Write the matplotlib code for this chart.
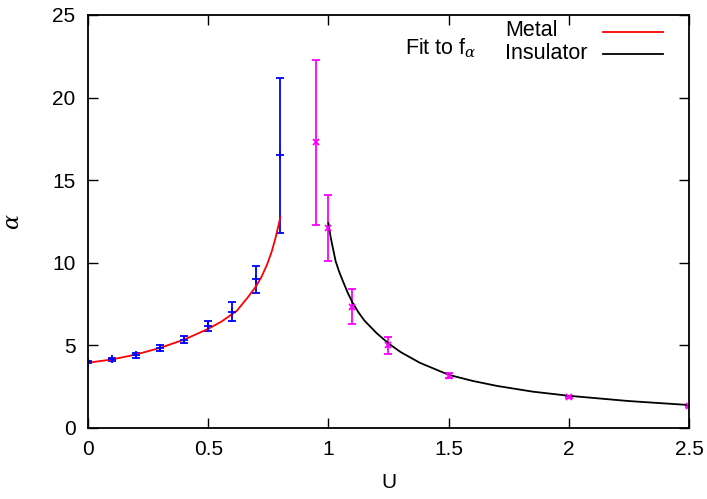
import numpy as np
import matplotlib
matplotlib.use("Agg")
import matplotlib.pyplot as plt

plt.rcParams['font.family'] = ['Liberation Sans', 'DejaVu Sans']
plt.rcParams['mathtext.fontset'] = 'custom'
plt.rcParams['mathtext.rm'] = 'Liberation Sans'
plt.rcParams['mathtext.it'] = 'DejaVu Serif:italic'

# measured points, metal side
u_metal = [0.0, 0.1, 0.2, 0.3, 0.4, 0.5, 0.6, 0.7, 0.8]
a_metal = [4.0, 4.15, 4.4, 4.85, 5.35, 6.2, 7.05, 9.0, 16.5]
e_metal = [0.05, 0.08, 0.15, 0.2, 0.2, 0.3, 0.55, 0.8, 4.7]

# measured points, insulator side
u_ins = [0.95, 1.0, 1.1, 1.25, 1.5, 2.0, 2.5]
a_ins = [17.3, 12.1, 7.35, 5.0, 3.15, 1.9, 1.35]
e_ins = [5.0, 2.0, 1.05, 0.5, 0.15, 0.06, 0.05]

# fit curves
u_fit_metal = [0.0, 0.1, 0.2, 0.3, 0.4, 0.5, 0.556, 0.618, 0.667, 0.7,
               0.722, 0.745, 0.764, 0.78, 0.8]
a_fit_metal = [3.95, 4.15, 4.45, 4.85, 5.35, 6.0, 6.45, 7.08, 7.95, 8.6,
               9.16, 9.9, 10.67, 11.5, 12.75]
u_fit_ins = [1.0, 1.01, 1.03, 1.045, 1.06, 1.08, 1.1, 1.125, 1.15, 1.2, 1.25,
             1.3, 1.38, 1.5, 1.6, 1.7, 1.85, 2.0, 2.25, 2.5]
a_fit_ins = [12.4, 11.5, 10.1, 9.45, 8.9, 8.2, 7.6, 7.0, 6.5, 5.75, 5.12,
             4.6, 3.95, 3.22, 2.85, 2.55, 2.2, 1.95, 1.63, 1.39]

fig = plt.figure(figsize=(7.07, 4.99), dpi=100)
ax = fig.add_axes([0.1245, 0.1423, 0.85, 0.8277])

ax.errorbar(u_metal, a_metal, yerr=e_metal, fmt='+', color='#0000ff',
            ms=6, mew=1.3, elinewidth=1.3, capsize=3, capthick=1.3)
ax.errorbar(u_ins, a_ins, yerr=e_ins, fmt='x', color='#ff00ff',
            ms=5, mew=1.3, elinewidth=1.3, capsize=3, capthick=1.3)

ax.plot(u_fit_metal, a_fit_metal, color='#ff0000', lw=1.3)
ax.plot(u_fit_ins, a_fit_ins, color='black', lw=1.3)

ax.set_xlim(0, 2.5)
ax.set_ylim(0, 25)
ax.set_xticks([0, 0.5, 1, 1.5, 2, 2.5])
ax.set_xticklabels(['0', '0.5', '1', '1.5', '2', '2.5'])
ax.set_yticks([0, 5, 10, 15, 20, 25])
ax.tick_params(direction='in', top=True, right=True, length=7, width=1,
               labelsize=15, pad=9)
for s in ax.spines.values():
    s.set_linewidth(1.3)

ax.set_xlabel('U', fontsize=15, labelpad=10)
ax.set_ylabel(r'$\alpha$', fontsize=16, labelpad=20)

# gnuplot style key: text left aligned, sample line on the right
ax.text(0.694, 0.962, 'Metal', transform=ax.transAxes, fontsize=15.5,
        ha='left', va='center')
ax.text(0.694, 0.906, 'Insulator', transform=ax.transAxes, fontsize=15.5,
        ha='left', va='center')
ax.plot([0.857, 0.957], [0.959, 0.959], transform=ax.transAxes,
        color='#ff0000', lw=1.3)
ax.plot([0.857, 0.957], [0.905, 0.905], transform=ax.transAxes,
        color='black', lw=1.3)
ax.text(0.527, 0.92, r'Fit to f$_\alpha$', transform=ax.transAxes,
        fontsize=15.5, ha='left', va='center')

fig.savefig('out.png', dpi=100)
